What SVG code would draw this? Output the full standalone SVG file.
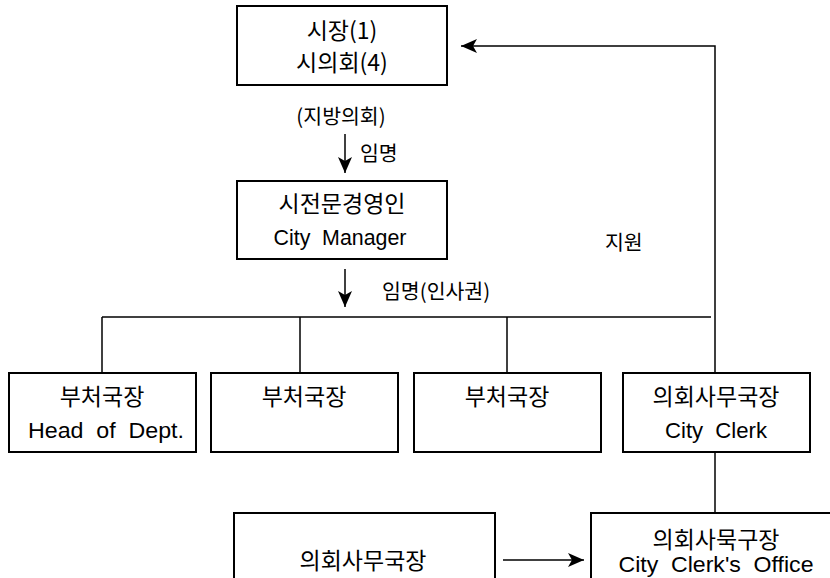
<svg xmlns="http://www.w3.org/2000/svg" width="830" height="578" viewBox="0 0 830 578">
  <style>
    .box { fill: #ffffff; stroke: #000000; stroke-width: 2; }
    .ln { fill: none; stroke: #000000; stroke-width: 1.5; }
    .ko { font-family: "Noto Sans CJK KR", "Liberation Sans", sans-serif; font-size: 23px; fill: #000; text-anchor: middle; }
    .en { font-family: "Liberation Sans", "Noto Sans CJK KR", sans-serif; font-size: 22px; fill: #000; text-anchor: middle; word-spacing: 6px; }
    .lb { font-family: "Noto Sans CJK KR", "Liberation Sans", sans-serif; font-size: 20.5px; fill: #000; }
  </style>
  <defs>
    <marker id="ah" markerUnits="userSpaceOnUse" markerWidth="16" markerHeight="14" refX="16" refY="7" orient="auto">
      <path d="M0,0 L16,7 L0,14 L4,7 z" fill="#000"/>
    </marker>
  </defs>

  <g id="connectors">
    <polyline class="ln" points="715,373 715,46 461,46" marker-end="url(#ah)"/>
    <line class="ln" x1="345" y1="134" x2="345" y2="173" marker-end="url(#ah)"/>
    <line class="ln" x1="345" y1="269" x2="345" y2="307" marker-end="url(#ah)"/>
    <line class="ln" x1="102" y1="317" x2="711" y2="317"/>
    <line class="ln" x1="102" y1="317" x2="102" y2="373"/>
    <line class="ln" x1="300" y1="317" x2="300" y2="373"/>
    <line class="ln" x1="507" y1="317" x2="507" y2="373"/>
    <line class="ln" x1="715" y1="452" x2="715" y2="513"/>
    <line class="ln" x1="503" y1="560" x2="584" y2="560" marker-end="url(#ah)"/>
    <text class="lb" x="341" y="124" text-anchor="middle">(지방의회)</text>
    <text class="lb" x="360" y="161">임명</text>
    <text class="lb" x="382" y="299">임명(인사권)</text>
    <text class="lb" x="605" y="250">지원</text>
  </g>

  <g id="mayor">
    <rect class="box" x="237" y="6" width="210" height="79"/>
    <text class="ko" x="342" y="39">시장(1)</text>
    <text class="ko" x="342" y="71">시의회(4)</text>
  </g>

  <g id="city-manager">
    <rect class="box" x="237" y="181" width="210" height="78"/>
    <text class="ko" x="342" y="212">시전문경영인</text>
    <text class="en" x="340" y="245" textLength="133" lengthAdjust="spacingAndGlyphs">City Manager</text>
  </g>

  <g id="dept1">
    <rect class="box" x="9" y="373" width="187" height="79"/>
    <text class="ko" x="102" y="405">부처국장</text>
    <text class="en" x="106" y="438" textLength="156" lengthAdjust="spacingAndGlyphs">Head of Dept.</text>
  </g>

  <g id="dept2">
    <rect class="box" x="211" y="373" width="187" height="79"/>
    <text class="ko" x="304" y="405">부처국장</text>
  </g>

  <g id="dept3">
    <rect class="box" x="414" y="373" width="187" height="79"/>
    <text class="ko" x="507" y="405">부처국장</text>
  </g>

  <g id="city-clerk">
    <rect class="box" x="623" y="373" width="187" height="79"/>
    <text class="ko" x="716" y="405">의회사무국장</text>
    <text class="en" x="716" y="438" textLength="102" lengthAdjust="spacingAndGlyphs">City Clerk</text>
  </g>

  <g id="clerk-left">
    <rect class="box" x="234" y="513" width="261" height="100"/>
    <text class="ko" x="363" y="569">의회사무국장</text>
  </g>

  <g id="clerk-office">
    <rect class="box" x="591" y="513" width="260" height="100"/>
    <text class="ko" x="716" y="548">의회사묵구장</text>
    <text class="en" x="716" y="572" textLength="195" lengthAdjust="spacingAndGlyphs">City Clerk's Office</text>
  </g>
</svg>
